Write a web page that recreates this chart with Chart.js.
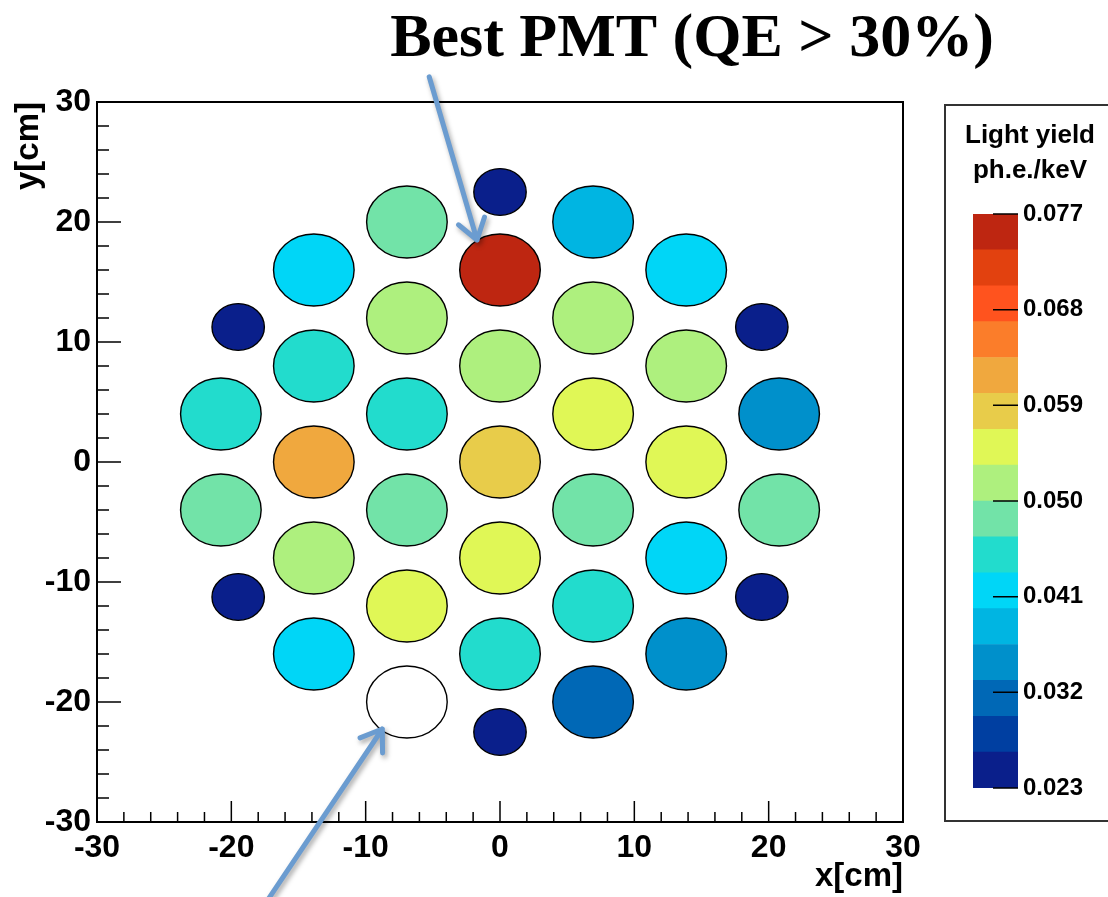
<!DOCTYPE html>
<html>
<head>
<meta charset="utf-8">
<title>PMT light yield map</title>
<script src="https://cdn.jsdelivr.net/npm/chart.js@4.4.1/dist/chart.umd.min.js"></script>
<style>
  html, body { margin: 0; padding: 0; background: #ffffff; overflow: hidden; }
  #wrap { position: relative; width: 1108px; height: 897px; }
  #map { position: absolute; left: 0; top: 0; }
  #palette { position: absolute; left: 944px; top: 104px; }
</style>
</head>
<body>
<div id="wrap">
  <canvas id="map" width="1108" height="897"></canvas>
  <canvas id="palette" width="164" height="718"></canvas>
</div>
<script>
// PMT centres (cm) on the top array
const pmtX = [
  0, 0, 0, 0, 0, 0, 0,
  -6.93, -6.93, -6.93, -6.93, -6.93, -6.93,
  6.93, 6.93, 6.93, 6.93, 6.93, 6.93,
  -13.86, -13.86, -13.86, -13.86, -13.86,
  13.86, 13.86, 13.86, 13.86, 13.86,
  -20.78, -20.78,
  20.78, 20.78,
  -19.49, -19.49, 19.49, 19.49
];
const pmtY = [
  22.5, 16, 8, 0, -8, -16, -22.5,
  20, 12, 4, -4, -12, -20,
  20, 12, 4, -4, -12, -20,
  16, 8, 0, -8, -16,
  16, 8, 0, -8, -16,
  4, -4,
  4, -4,
  11.25, -11.25, 11.25, -11.25
];
// photocathode size class of each tube
const pmtType = [
  '2in', '3in', '3in', '3in', '3in', '3in', '2in',
  '3in', '3in', '3in', '3in', '3in', '3in',
  '3in', '3in', '3in', '3in', '3in', '3in',
  '3in', '3in', '3in', '3in', '3in',
  '3in', '3in', '3in', '3in', '3in',
  '3in', '3in',
  '3in', '3in',
  '2in', '2in', '2in', '2in'
];
// light yield in ph.e./keV (null: tube not measured)
const lightYield = [
  0.0245, 0.0770, 0.0515, 0.0580, 0.0550, 0.0450, 0.0240,
  0.0485, 0.0520, 0.0455, 0.0480, 0.0555, null,
  0.0380, 0.0515, 0.0550, 0.0480, 0.0450, 0.0315,
  0.0415, 0.0450, 0.0620, 0.0520, 0.0410,
  0.0420, 0.0515, 0.0555, 0.0415, 0.0350,
  0.0450, 0.0485,
  0.0345, 0.0480,
  0.0230, 0.0250, 0.0240, 0.0255
];

// axis ticks (cm) and labelled major ticks
const axisTicks = [-30, -28, -26, -24, -22, -20, -18, -16, -14, -12, -10, -8, -6, -4, -2,
                   0, 2, 4, 6, 8, 10, 12, 14, 16, 18, 20, 22, 24, 26, 28, 30];
const axisMajor = [-30, -20, -10, 0, 10, 20, 30];

// colour scale range and its labelled ticks
const zRange = [0.023, 0.077];
const zTicks = [0.023, 0.032, 0.041, 0.050, 0.059, 0.068, 0.077];
const paletteColors = [
  '#0a1f8b', '#003fa1', '#0068b6', '#0090cb', '#00b5e2', '#00d6f7',
  '#22dccd', '#72e3a8', '#aef07e', '#e0f756', '#e8cc4a', '#f0a83e',
  '#fb7d2a', '#ff531e', '#e2410f', '#be2611'
];

// tube radii in cm
const pmtRadius = { '3in': 3.0, '2in': 1.95 };

const FONT = '"Liberation Sans", Arial, Helvetica, sans-serif';
const SERIF = '"Liberation Serif", "Times New Roman", serif';

function colourFor(v) {
  if (v === null) return '#ffffff';
  const n = paletteColors.length;
  let k = Math.floor((v - zRange[0]) / (zRange[1] - zRange[0]) * n);
  k = Math.max(0, Math.min(n - 1, k));
  return paletteColors[k];
}

// tubes drawn as filled discs with their true size in axis units
const pmtDisks = {
  id: 'pmtDisks',
  afterDatasetsDraw(chart) {
    const { ctx, chartArea: a, scales: { x, y } } = chart;
    const meta = chart.getDatasetMeta(0);
    ctx.save();
    ctx.beginPath();
    ctx.rect(a.left, a.top, a.width, a.height);
    ctx.clip();
    meta.data.forEach((pt, i) => {
      const r = pmtRadius[pmtType[i]];
      const rx = Math.abs(x.getPixelForValue(pmtX[i] + r) - pt.x);
      const ry = Math.abs(y.getPixelForValue(pmtY[i] + r) - pt.y);
      ctx.beginPath();
      ctx.ellipse(pt.x, pt.y, rx, ry, 0, 0, Math.PI * 2);
      ctx.fillStyle = colourFor(lightYield[i]);
      ctx.fill();
      ctx.lineWidth = 1.4;
      ctx.strokeStyle = '#000000';
      ctx.stroke();
    });
    ctx.restore();
  }
};

// frame with inward major/minor ticks
const frameTicks = {
  id: 'frameTicks',
  afterDatasetsDraw(chart) {
    const { ctx, chartArea: a, scales: { x, y } } = chart;
    ctx.save();
    ctx.strokeStyle = '#000000';
    ctx.lineWidth = 1.5;
    ctx.beginPath();
    x.ticks.forEach(t => {
      const px = x.getPixelForValue(t.value);
      const len = axisMajor.includes(t.value) ? 21 : 10;
      ctx.moveTo(px, a.bottom);
      ctx.lineTo(px, a.bottom - len);
    });
    y.ticks.forEach(t => {
      const py = y.getPixelForValue(t.value);
      const len = axisMajor.includes(t.value) ? 24 : 12;
      ctx.moveTo(a.left, py);
      ctx.lineTo(a.left + len, py);
    });
    ctx.stroke();
    ctx.lineWidth = 2;
    ctx.strokeRect(a.left, a.top, a.width, a.height);
    ctx.restore();
  }
};

// callout arrows, endpoints in cm
const callouts = [
  { from: [-5.27, 32.1], to: [-1.71, 18.5] },
  { from: [-18.04, -37.75], to: [-8.76, -22.25] }
];

function drawArrow(ctx, x1, y1, x2, y2) {
  const ang = Math.atan2(y2 - y1, x2 - x1);
  const L = 24, spread = 0.6;
  ctx.beginPath();
  ctx.moveTo(x1, y1);
  ctx.lineTo(x2, y2);
  ctx.moveTo(x2 - L * Math.cos(ang - spread), y2 - L * Math.sin(ang - spread));
  ctx.lineTo(x2, y2);
  ctx.lineTo(x2 - L * Math.cos(ang + spread), y2 - L * Math.sin(ang + spread));
  ctx.stroke();
}

const annotations = {
  id: 'annotations',
  afterDraw(chart) {
    const { ctx, scales: { x, y } } = chart;
    ctx.save();
    ctx.fillStyle = '#000000';
    ctx.font = 'bold 62px ' + SERIF;
    ctx.textAlign = 'center';
    ctx.textBaseline = 'alphabetic';
    ctx.fillText('Best PMT (QE > 30%)', 692, 56);

    ctx.strokeStyle = '#6b9cd0';
    ctx.lineWidth = 5;
    ctx.lineCap = 'round';
    ctx.lineJoin = 'round';
    ctx.shadowColor = 'rgba(0,0,0,0.35)';
    ctx.shadowBlur = 5;
    ctx.shadowOffsetX = 2;
    ctx.shadowOffsetY = 3;
    callouts.forEach(c => {
      drawArrow(ctx,
        x.getPixelForValue(c.from[0]), y.getPixelForValue(c.from[1]),
        x.getPixelForValue(c.to[0]), y.getPixelForValue(c.to[1]));
    });
    ctx.restore();
  }
};

const tickFont = { family: FONT, size: 32, weight: 'bold' };
const titleFont = { family: FONT, size: 33, weight: 'bold', lineHeight: 1 };

new Chart(document.getElementById('map'), {
  type: 'scatter',
  data: {
    datasets: [{
      label: 'PMT',
      data: pmtX.map((v, i) => ({ x: v, y: pmtY[i] })),
      pointRadius: 0,
      pointHoverRadius: 0,
      backgroundColor: lightYield.map(colourFor)
    }]
  },
  options: {
    responsive: false,
    devicePixelRatio: 1,
    animation: false,
    events: [],
    layout: { autoPadding: false, padding: { top: 102, right: 205, left: 0, bottom: 0 } },
    plugins: { legend: { display: false }, tooltip: { enabled: false }, title: { display: false } },
    scales: {
      x: {
        type: 'linear', position: 'bottom', min: -30, max: 30,
        afterBuildTicks: s => { s.ticks = axisTicks.map(v => ({ value: v })); },
        afterFit: s => { s.height = 75; },
        grid: { display: false, drawTicks: false },
        border: { display: false },
        ticks: {
          padding: 7, autoSkip: false, maxRotation: 0, color: '#000000', font: tickFont,
          callback: v => axisMajor.includes(v) ? String(v) : ''
        },
        title: { display: true, text: 'x[cm]', align: 'end', color: '#000000', font: titleFont, padding: { top: 0, bottom: 4 } }
      },
      y: {
        type: 'linear', position: 'left', min: -30, max: 30,
        afterBuildTicks: s => { s.ticks = axisTicks.map(v => ({ value: v })); },
        afterFit: s => { s.width = 97; },
        grid: { display: false, drawTicks: false },
        border: { display: false },
        ticks: {
          padding: 6, autoSkip: false, color: '#000000', font: tickFont,
          callback: v => axisMajor.includes(v) ? String(v) : ''
        },
        title: { display: true, text: 'y[cm]', align: 'end', color: '#000000', font: titleFont, padding: { top: 12.5, bottom: 0 } }
      }
    }
  },
  plugins: [pmtDisks, frameTicks, annotations]
});

// colour scale box
const zEdges = paletteColors.map((_, k) => zRange[0] + k * (zRange[1] - zRange[0]) / paletteColors.length);
zEdges.push(zRange[1]);

const paletteFrame = {
  id: 'paletteFrame',
  afterDraw(chart) {
    const { ctx, chartArea: a, scales: { y } } = chart;
    ctx.save();
    ctx.strokeStyle = '#000000';
    ctx.lineWidth = 1.5;
    ctx.beginPath();
    y.ticks.forEach(t => {
      const py = y.getPixelForValue(t.value);
      ctx.moveTo(a.right - 25, py);
      ctx.lineTo(a.right, py);
    });
    ctx.stroke();
    ctx.strokeStyle = '#333333';
    ctx.lineWidth = 2;
    ctx.strokeRect(1, 1, 220, 716);
    ctx.restore();
  }
};

new Chart(document.getElementById('palette'), {
  type: 'bar',
  data: {
    labels: ['z'],
    datasets: paletteColors.map((c, k) => ({
      label: 'bin' + k,
      data: [[zEdges[k], zEdges[k + 1]]],
      backgroundColor: c,
      borderWidth: 0,
      grouped: false,
      barPercentage: 1,
      categoryPercentage: 1,
      yAxisID: 'y'
    }))
  },
  options: {
    responsive: false,
    devicePixelRatio: 1,
    animation: false,
    events: [],
    layout: { autoPadding: false, padding: { top: 0, right: 0, left: 8, bottom: 34 } },
    plugins: {
      legend: { display: false },
      tooltip: { enabled: false },
      title: {
        display: true,
        text: ['Light yield', 'ph.e./keV'],
        color: '#000000',
        font: { family: FONT, size: 26, weight: 'bold', lineHeight: '35px' },
        padding: { top: 14.5, bottom: 25.5 }
      }
    },
    scales: {
      x: { type: 'category', display: false },
      yl: {
        type: 'linear', position: 'left', display: true,
        ticks: { display: false }, grid: { display: false, drawTicks: false }, border: { display: false },
        afterFit: s => { s.width = 21; }
      },
      y: {
        type: 'linear', position: 'right', min: zRange[0], max: zRange[1],
        afterBuildTicks: s => { s.ticks = zTicks.map(v => ({ value: v })); },
        afterFit: s => { s.width = 90; },
        grid: { display: false, drawTicks: false },
        border: { display: false },
        ticks: {
          padding: 5, color: '#000000', font: { family: FONT, size: 24, weight: 'bold' },
          callback: v => v.toFixed(3)
        }
      }
    }
  },
  plugins: [paletteFrame]
});
</script>
</body>
</html>
